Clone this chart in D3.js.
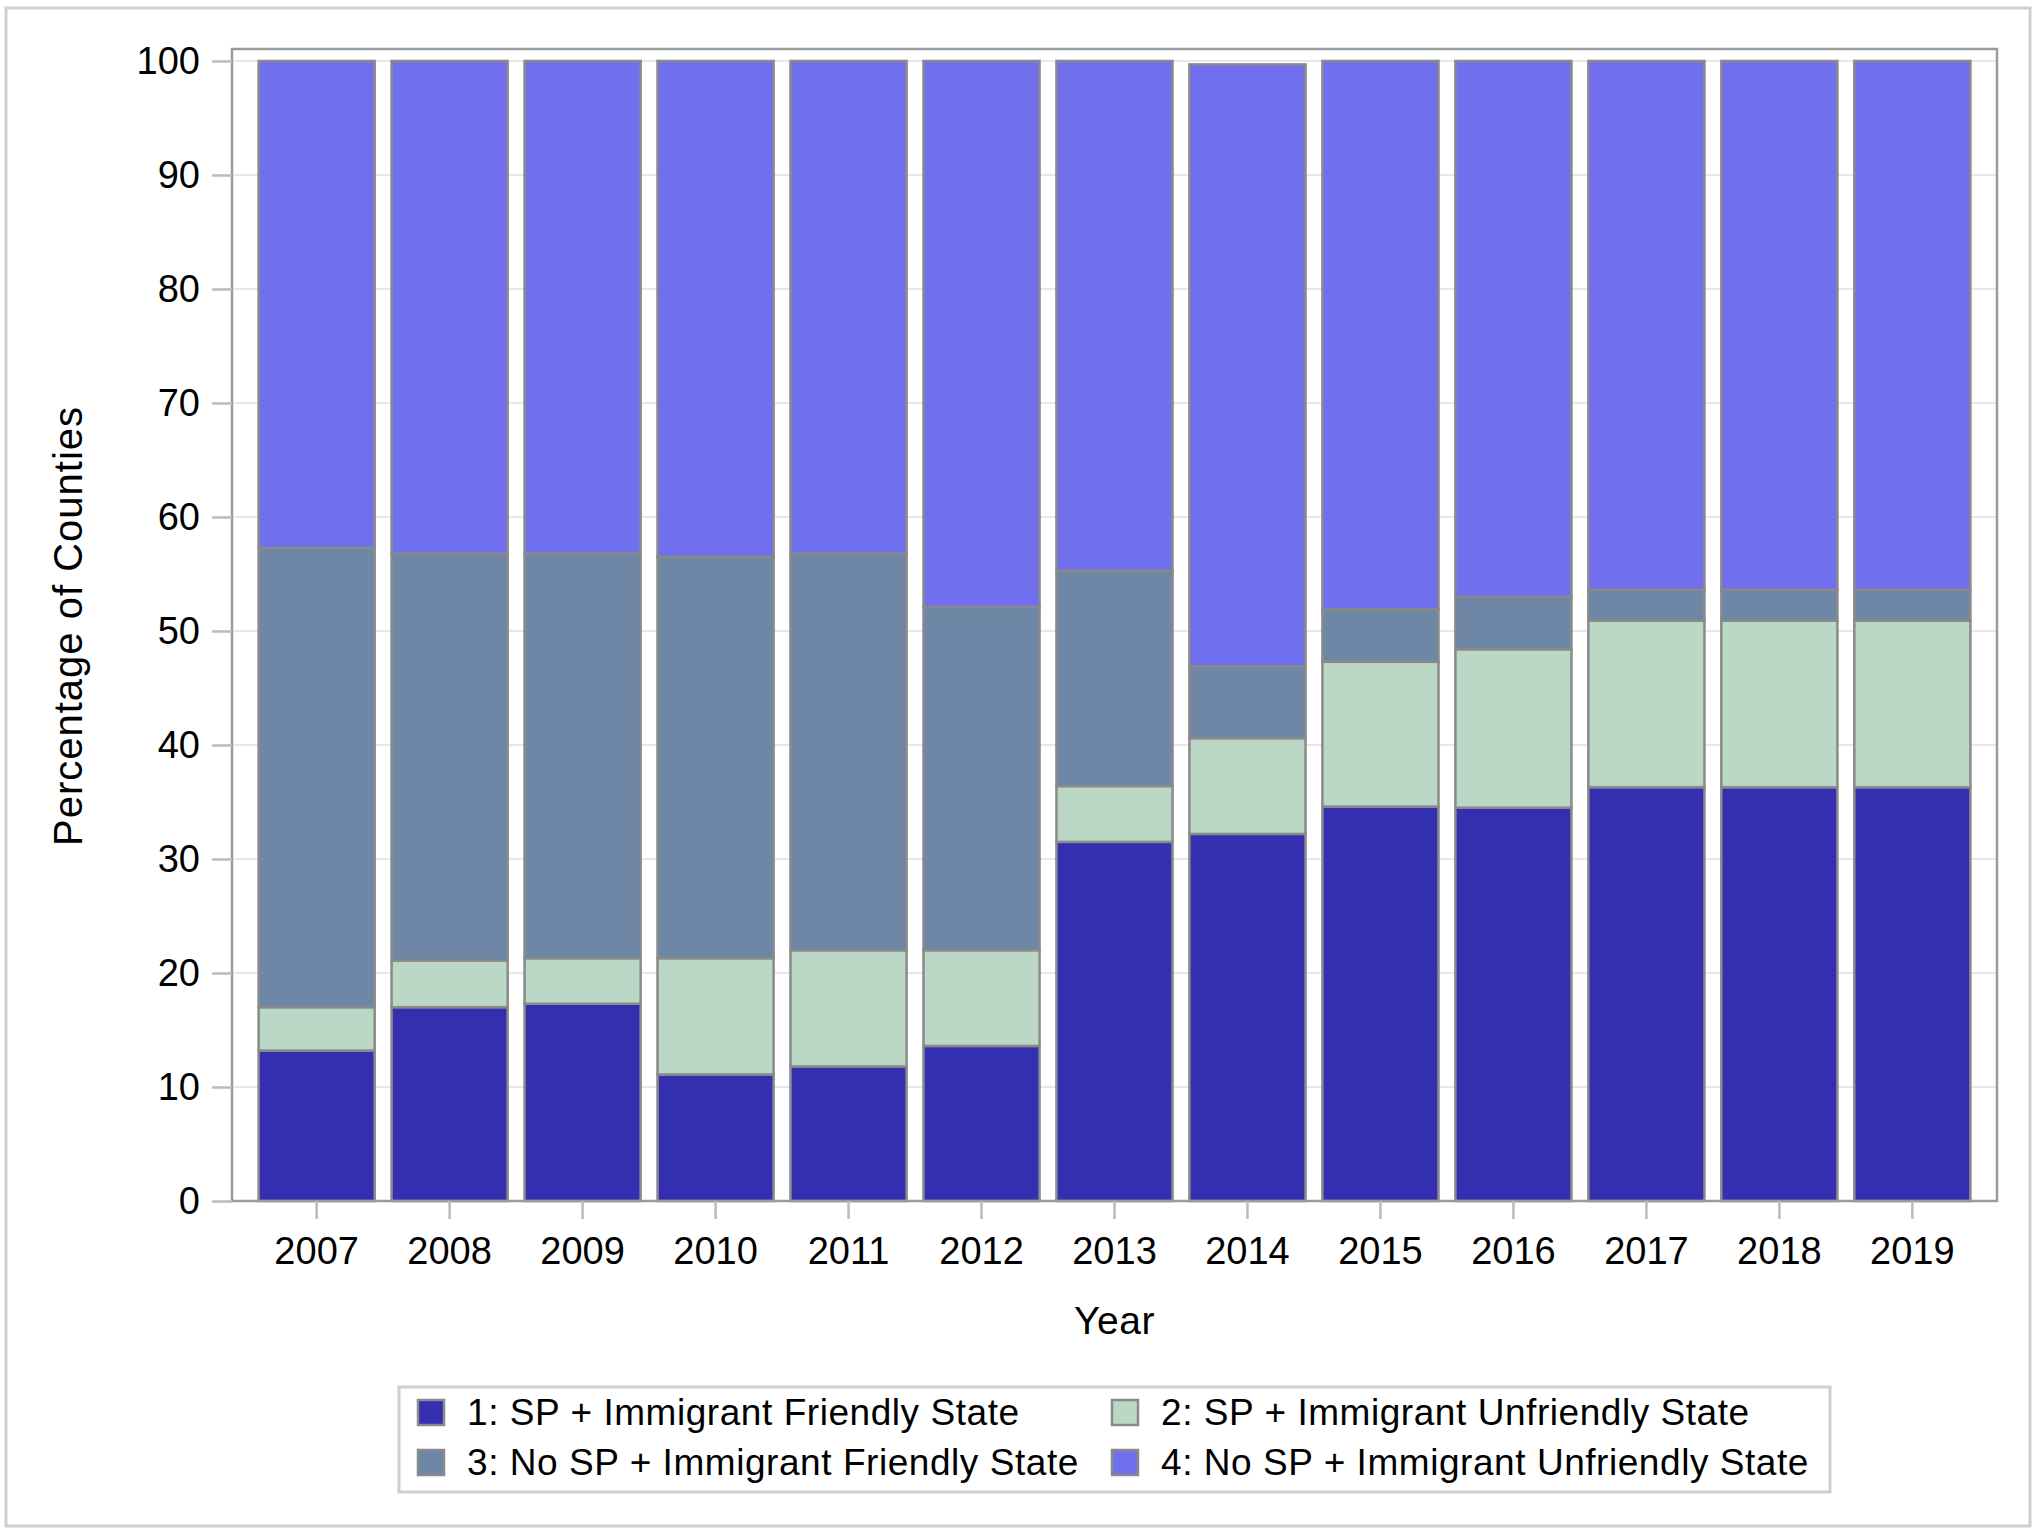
<!DOCTYPE html>
<html>
<head>
<meta charset="utf-8">
<script src="https://cdn.jsdelivr.net/npm/d3@7"></script>
<style>
  html, body { margin: 0; padding: 0; background: #fff; }
  svg { display: block; }
  text { font-family: "Liberation Sans", Arial, sans-serif; fill: #000; }
</style>
</head>
<body>
<svg id="chart" width="2040" height="1533"></svg>
<script>
// ---- Data ----
const years = ["2007","2008","2009","2010","2011","2012","2013","2014","2015","2016","2017","2018","2019"];
const seriesNames = [
  "1: SP + Immigrant Friendly State",
  "2: SP + Immigrant Unfriendly State",
  "3: No SP + Immigrant Friendly State",
  "4: No SP + Immigrant Unfriendly State"
];
const s1 = [13.2, 17.0, 17.3, 11.1, 11.8, 13.6, 31.5, 32.2, 34.6, 34.5, 36.3, 36.3, 36.3];
const s2 = [3.8, 4.1, 4.0, 10.2, 10.2, 8.4, 4.9, 8.4, 12.7, 13.9, 14.6, 14.6, 14.6];
const s3 = [40.3, 35.7, 35.5, 35.2, 34.8, 30.1, 18.9, 6.3, 4.6, 4.6, 2.7, 2.7, 2.7];
const s4 = [42.7, 43.2, 43.2, 43.5, 43.2, 47.9, 44.7, 52.8, 48.1, 47.0, 46.4, 46.4, 46.4];
const yTicks = [0, 10, 20, 30, 40, 50, 60, 70, 80, 90, 100];
const colors = ["#332fb0", "#bad8c5", "#6e87a6", "#706fee"];

// ---- Layout ----
const svg = d3.select("#chart");
const plot = { left: 232, right: 1997, top: 49, bottom: 1201 };

const rows = years.map((y, i) => ({ year: y, k0: s1[i], k1: s2[i], k2: s3[i], k3: s4[i] }));
const stack = d3.stack().keys(["k0", "k1", "k2", "k3"]);
const stacked = stack(rows);

const x = d3.scaleBand().domain(years).range([plot.left, plot.right]).paddingInner(0.127).paddingOuter(0.2);
const y = d3.scaleLinear().domain([0, 101.05]).range([plot.bottom, plot.top]);

// outer border
svg.append("rect").attr("x", 6).attr("y", 8).attr("width", 2024).attr("height", 1518)
  .attr("fill", "none").attr("stroke", "#cfcfcf").attr("stroke-width", 3);

// gridlines
svg.append("g").selectAll("line").data(yTicks.filter(d => d > 0)).join("line")
  .attr("x1", plot.left).attr("x2", plot.right)
  .attr("y1", d => y(d)).attr("y2", d => y(d))
  .attr("stroke", "#e8e8e8").attr("stroke-width", 2);

// bars
const gBars = svg.append("g");
stacked.forEach((layer, li) => {
  gBars.append("g").selectAll("rect").data(layer).join("rect")
    .attr("x", d => x(d.data.year))
    .attr("width", x.bandwidth())
    .attr("y", d => y(d[1]))
    .attr("height", d => y(d[0]) - y(d[1]))
    .attr("fill", colors[li])
    .attr("stroke", "#8a8a8a")
    .attr("stroke-width", 2.5);
});

// plot frame
svg.append("rect").attr("x", plot.left).attr("y", plot.top)
  .attr("width", plot.right - plot.left).attr("height", plot.bottom - plot.top)
  .attr("fill", "none").attr("stroke", "#979c9e").attr("stroke-width", 2.5);

// y axis
const yAxis = d3.axisLeft(y).tickValues(yTicks).tickSize(20).tickPadding(12).tickFormat(d3.format("d"));
const gy = svg.append("g").attr("transform", `translate(${plot.left},0)`).call(yAxis);
gy.select(".domain").remove();
gy.selectAll(".tick line").attr("stroke", "#b8bcbe").attr("stroke-width", 2.5);
gy.selectAll(".tick text").style("font-size", "38px").attr("fill", "#000")
  .attr("font-family", "Liberation Sans, Arial, sans-serif");

// x axis
const xAxis = d3.axisBottom(x).tickSize(18).tickPadding(18);
const gx = svg.append("g").attr("transform", `translate(0,${plot.bottom})`).call(xAxis);
gx.select(".domain").remove();
gx.selectAll(".tick line").attr("stroke", "#b8bcbe").attr("stroke-width", 2.5);
gx.selectAll(".tick text").style("font-size", "38px").attr("fill", "#000")
  .attr("font-family", "Liberation Sans, Arial, sans-serif");

// axis titles
svg.append("text").attr("x", (plot.left + plot.right) / 2).attr("y", 1334)
  .attr("text-anchor", "middle").style("font-size", "39px").style("letter-spacing", "0.5px").text("Year");
svg.append("text").attr("transform", `translate(82,626) rotate(-90)`)
  .attr("text-anchor", "middle").style("font-size", "40px").style("letter-spacing", "1px").text("Percentage of Counties");

// legend
const legend = svg.append("g");
legend.append("rect").attr("x", 399).attr("y", 1387).attr("width", 1431).attr("height", 105)
  .attr("fill", "#fff").attr("stroke", "#cfcfcf").attr("stroke-width", 3);
const legPos = [
  { sx: 418, ty: 1425 },
  { sx: 1112, ty: 1425 },
  { sx: 418, ty: 1475 },
  { sx: 1112, ty: 1475 }
];
seriesNames.forEach((name, i) => {
  const p = legPos[i];
  legend.append("rect").attr("x", p.sx).attr("y", p.ty - 25).attr("width", 26).attr("height", 25)
    .attr("fill", colors[i]).attr("stroke", "#8a8a8a").attr("stroke-width", 2.5);
  legend.append("text").attr("x", p.sx + 49).attr("y", p.ty)
    .style("font-size", "37px").style("letter-spacing", "0.55px").text(name);
});
</script>
</body>
</html>
